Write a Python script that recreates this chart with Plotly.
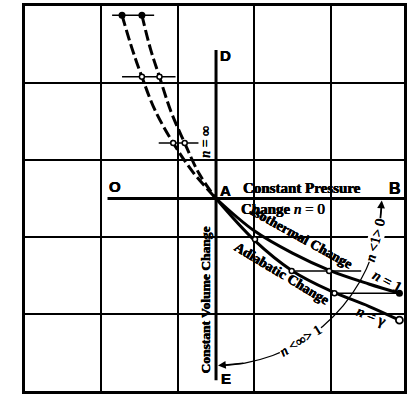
import plotly.graph_objects as go

# ---- data (grid units) ----
iso_x = [2.5, 3.0, 3.5, 4.0, 4.5, 4.9]
iso_y = [2.5, 2.08, 1.79, 1.56, 1.39, 1.27]
adi_x = [2.5, 3.0, 3.5, 4.0, 4.5, 4.9]
adi_y = [2.5, 1.96, 1.56, 1.30, 1.10, 0.92]
iso_dash_x = [1.27, 1.40, 1.53, 1.70, 1.94, 2.20, 2.5]
iso_dash_y = [4.88, 4.45, 4.08, 3.65, 3.22, 2.84, 2.5]
adi_dash_x = [1.53, 1.64, 1.76, 1.91, 2.09, 2.28, 2.5]
adi_dash_y = [4.88, 4.45, 4.08, 3.63, 3.22, 2.82, 2.5]
arc_x = [4.669, 4.637, 4.539, 4.379, 4.162, 3.895, 3.585, 3.242, 2.877, 2.576]
arc_y = [2.424, 2.123, 1.758, 1.415, 1.105, 0.838, 0.621, 0.461, 0.363, 0.331]

tick_levels = [4.88, 4.08, 3.22, 1.56, 1.27]
tick_x0 = [1.14, 1.27, 1.75, 3.53, 4.09]
tick_x1 = [1.69, 1.97, 2.27, 4.40, 4.87]

filled_x = [1.27, 1.53, 4.9]
filled_y = [4.88, 4.88, 1.27]
open_x = [1.53, 1.76, 1.94, 2.09, 3.01, 3.49, 3.98, 4.05]
open_y = [4.08, 4.08, 3.22, 3.22, 1.97, 1.56, 1.56, 1.27]
end_open_x = [4.9]
end_open_y = [0.92]

ob_x = [1.08, 4.96]
ob_y = [2.5, 2.5]
de_x = [2.5, 2.5]
de_y = [4.43, 0.14]

SERIF = "Liberation Serif"
SANS = "Liberation Sans"
HEAVY = "0.35px 0 0 black, -0.35px 0 0 black"

fig = go.Figure()

def line(x, y, width=3, dash="solid", shape="linear"):
    fig.add_trace(go.Scatter(x=x, y=y, mode="lines",
                             line=dict(color="black", width=width, dash=dash, shape=shape),
                             hoverinfo="skip", showlegend=False))

line(ob_x, ob_y, 3)
line(de_x, de_y, 3)
line(iso_x, iso_y, 3, shape="spline")
line(adi_x, adi_y, 3, shape="spline")
line(iso_dash_x, iso_dash_y, 3, dash="11px,4px", shape="spline")
line(adi_dash_x, adi_dash_y, 3, dash="11px,4px", shape="spline")
line(arc_x, arc_y, 1.3, shape="spline")

tx, ty = [], []
for lv, a, b in zip(tick_levels, tick_x0, tick_x1):
    tx += [a, b, None]
    ty += [lv, lv, None]
line(tx, ty, 1.5)

fig.add_trace(go.Scatter(x=filled_x, y=filled_y, mode="markers",
                         marker=dict(color="black", size=7), hoverinfo="skip", showlegend=False))
fig.add_trace(go.Scatter(x=open_x, y=open_y, mode="markers",
                         marker=dict(color="white", size=5, line=dict(color="black", width=1.5)),
                         hoverinfo="skip", showlegend=False))
fig.add_trace(go.Scatter(x=end_open_x, y=end_open_y, mode="markers",
                         marker=dict(color="white", size=7, line=dict(color="black", width=1.8)),
                         hoverinfo="skip", showlegend=False))

# arrowheads on the arc
fig.add_annotation(x=arc_x[0], y=arc_y[0] + 0.05, ax=arc_x[1], ay=arc_y[1],
                   xref="x", yref="y", axref="x", ayref="y", text="",
                   showarrow=True, arrowhead=2, arrowsize=1.2, arrowwidth=1.3, arrowcolor="black")
fig.add_annotation(x=arc_x[-1] - 0.05, y=arc_y[-1], ax=arc_x[-2], ay=arc_y[-2],
                   xref="x", yref="y", axref="x", ayref="y", text="",
                   showarrow=True, arrowhead=2, arrowsize=1.2, arrowwidth=1.3, arrowcolor="black")

def label(x, y, text, size=15, angle=0, family=SERIF, bg=None, heavy=True):
    font = dict(family=family, size=size, color="black")
    if heavy:
        font["shadow"] = HEAVY
    fig.add_annotation(x=x, y=y, xref="x", yref="y", text=text, showarrow=False,
                       textangle=angle, font=font, bgcolor=bg, borderpad=0)

label(3.62, 2.63, "<b>Constant Pressure</b>", 15)
label(3.38, 2.37, "<b>Change</b> <i>n</i> = 0", 15)
label(4.84, 2.63, "<b>B</b>", 16, family=SANS)
label(2.63, 2.60, "<b>A</b>", 15, family=SANS)
label(1.18, 2.65, "<b>O</b>", 15, family=SANS)
label(2.63, 4.36, "<b>D</b>", 15, family=SANS)
label(2.63, 0.16, "<b>E</b>", 15, family=SANS)
label(3.62, 2.0, "<b>Isothermal Change</b>", 14, angle=29)
label(4.74, 1.43, "<i>n</i> = 1", 15, angle=28)
label(3.36, 1.53, "<b>Adiabatic Change</b>", 14, angle=31)
label(4.53, 0.97, "<i>n</i> = γ", 15, angle=22)
label(4.58, 1.96, "<i>n</i> &lt;1&gt; 0", 14, angle=-76, bg="white")
label(3.61, 0.66, "<i>n</i> &lt;∞&gt; 1", 14, angle=-32, bg="white")
label(2.36, 1.18, "<b>Constant Volume Change</b>", 13.5, angle=-90)
label(2.36, 3.24, "<i>n</i> = ∞", 14, angle=-90)
label(-0.17, 0.75, "<b>Pressures</b>", 15, angle=-90)
label(0.87, -0.16, "<b>Volumes</b>", 16)

axis_common = dict(showgrid=True, gridcolor="black", gridwidth=2, dtick=1, tick0=0,
                   showticklabels=False, ticks="", zeroline=False,
                   showline=True, linecolor="black", linewidth=3, mirror=True, fixedrange=True)
fig.update_xaxes(range=[0, 4.96], **axis_common)
fig.update_yaxes(range=[0, 5], **axis_common)

fig.update_layout(width=407, height=413, margin=dict(l=25, r=0, t=6, b=22),
                  plot_bgcolor="white", paper_bgcolor="white")

fig.write_html("out.html", config={"displayModeBar": False},
               post_script="document.body.style.margin='0';document.body.style.overflow='hidden';")
